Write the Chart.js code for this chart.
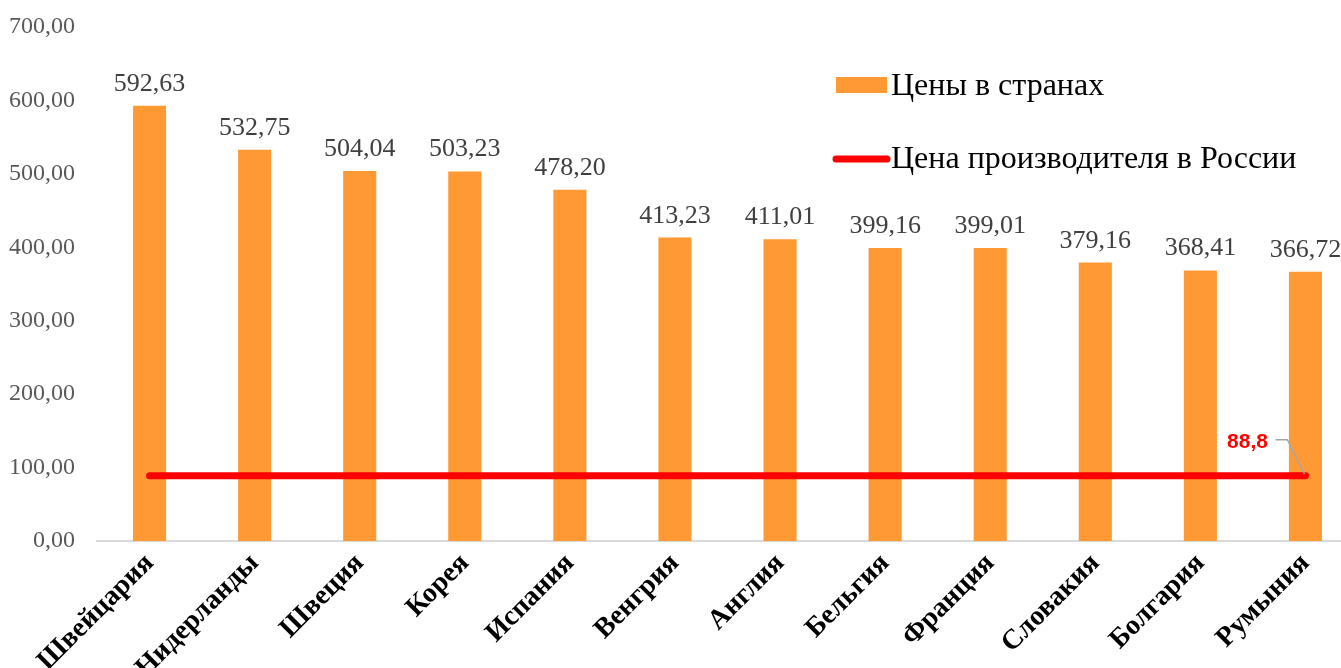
<!DOCTYPE html>
<html>
<head>
<meta charset="utf-8">
<script src="https://cdn.jsdelivr.net/npm/chart.js@4/dist/chart.umd.min.js"></script>
<style>
  html, body { margin: 0; padding: 0; background: #fff; overflow: hidden; }
  #wrap { width: 1358px; height: 668px; position: relative; }
</style>
</head>
<body>
<div id="wrap"><canvas id="chart"></canvas></div>
<script>
// ── Данные ─────────────────────────────────────────────────────
const strany = ['Швейцария','Нидерланды','Швеция','Корея','Испания','Венгрия','Англия','Бельгия','Франция','Словакия','Болгария','Румыния'];
const ceny = [592.63, 532.75, 504.04, 503.23, 478.20, 413.23, 411.01, 399.16, 399.01, 379.16, 368.41, 366.72];
const cenaRossiya = [88.8, 88.8, 88.8, 88.8, 88.8, 88.8, 88.8, 88.8, 88.8, 88.8, 88.8, 88.8];
const legendaNazvaniya = ['Цены в странах', 'Цена производителя в России'];

const SERIF = '"Liberation Serif", "Times New Roman", serif';
const fmt = (v, d) => v.toFixed(d).replace('.', ',');

// ── Подписи и легенда ──────────────────────────────────────────
const podpisi = {
  id: 'podpisi',
  afterDatasetsDraw(chart) {
    const ctx = chart.ctx;
    ctx.save();
    // подписи над столбцами
    const bars = chart.getDatasetMeta(0).data;
    ctx.font = '26px ' + SERIF;
    ctx.fillStyle = '#404040';
    ctx.textAlign = 'center';
    ctx.textBaseline = 'alphabetic';
    bars.forEach((b, i) => ctx.fillText(fmt(ceny[i], 2), b.x, b.y - 15));

    // подпись линии — последняя точка
    const pts = chart.getDatasetMeta(1).data;
    const last = pts[pts.length - 1];
    const lx = last.x - 60, ly = last.y - 34;
    ctx.strokeStyle = '#a6a6a6';
    ctx.lineWidth = 1.5;
    ctx.beginPath();
    ctx.moveTo(lx + 30, ly - 2);
    ctx.lineTo(lx + 42, ly - 2);
    ctx.lineTo(last.x - 1, last.y - 2);
    ctx.stroke();
    ctx.font = 'bold 21px "Liberation Sans", Arial, sans-serif';
    ctx.fillStyle = '#ff0000';
    ctx.textAlign = 'center';
    ctx.textBaseline = 'middle';
    ctx.fillText(fmt(cenaRossiya[cenaRossiya.length - 1], 1), lx + 2, ly);

    // легенда
    ctx.fillStyle = '#ff9933';
    ctx.fillRect(836, 77, 51, 16);
    ctx.strokeStyle = '#ff0000';
    ctx.lineWidth = 7;
    ctx.lineCap = 'round';
    ctx.beginPath();
    ctx.moveTo(836, 159);
    ctx.lineTo(887, 159);
    ctx.stroke();
    ctx.font = '32px ' + SERIF;
    ctx.fillStyle = '#000';
    ctx.textAlign = 'left';
    ctx.textBaseline = 'middle';
    ctx.fillText(legendaNazvaniya[0], 891, 87);
    ctx.fillText(legendaNazvaniya[1], 891, 160);
    ctx.restore();
  }
};

new Chart(document.getElementById('chart'), {
  data: {
    labels: strany,
    datasets: [
      {
        type: 'bar', label: legendaNazvaniya[0], data: ceny,
        backgroundColor: '#ff9933', borderWidth: 0,
        barPercentage: 0.63, categoryPercentage: 0.5, order: 2
      },
      {
        type: 'line', label: legendaNazvaniya[1], data: cenaRossiya,
        borderColor: '#ff0000', borderWidth: 7, borderCapStyle: 'round',
        pointRadius: 0, fill: false, tension: 0, order: 1
      }
    ]
  },
  options: {
    responsive: true, maintainAspectRatio: false, animation: false,
    layout: { padding: 0 },
    plugins: { legend: { display: false }, tooltip: { enabled: false } },
    scales: {
      x: {
        grid: { display: false, drawTicks: false },
        border: { color: '#d9d9d9', width: 2 },
        ticks: {
          color: '#000', maxRotation: 45, minRotation: 45, autoSkip: false, padding: 6,
          font: { family: SERIF, size: 28, weight: 'bold' }
        },
        afterFit(s) { s.height = 127; }
      },
      y: {
        min: 0, max: 700,
        grid: { display: false, drawTicks: false },
        border: { display: false },
        ticks: {
          stepSize: 100, color: '#595959', padding: 22,
          font: { family: SERIF, size: 24 },
          callback: v => fmt(v, 2)
        },
        afterFit(s) { s.width = 97; s.paddingTop = 27; s.paddingBottom = 0; }
      }
    }
  },
  plugins: [podpisi]
});
</script>
</body>
</html>
